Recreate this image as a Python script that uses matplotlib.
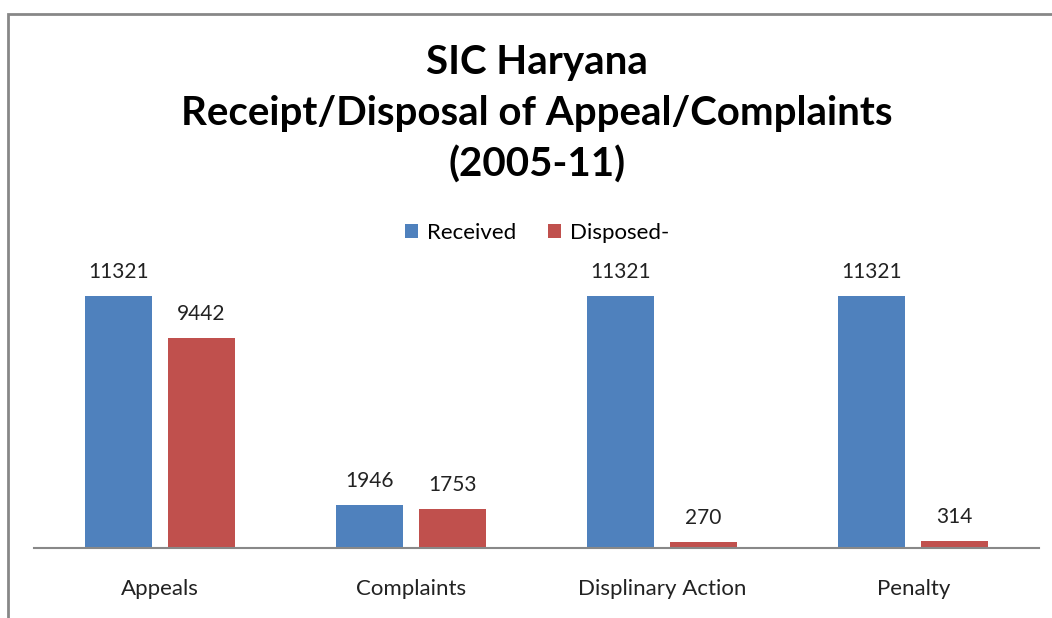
import matplotlib.pyplot as plt
import numpy as np
from matplotlib.patches import Rectangle

categories = ['Appeals', 'Complaints', 'Displinary Action', 'Penalty']
received = [11321, 1946, 11321, 11321]
disposed = [9442, 1753, 270, 314]
series_names = ['Received', 'Disposed-']
colors = ['#4F81BD', '#C0504D']

plt.rcParams['font.family'] = ['Lato', 'DejaVu Sans']

W, H = 1052, 618
fig = plt.figure(figsize=(W / 100, H / 100), dpi=100)

# outer chart frame (cut off at right and bottom like the original)
fig.patches.append(Rectangle((8 / W, -0.2), 1.2, 1.2 - 14 / H, transform=fig.transFigure,
                             fill=False, edgecolor='#878787', linewidth=2, clip_on=False))

ax = fig.add_axes([34 / W, 70 / H, 1005 / W, 267 / H])
x = np.arange(len(categories))
w = 0.267
off = 0.165
b1 = ax.bar(x - off, received, w, color=colors[0], label=series_names[0])
b2 = ax.bar(x + off, disposed, w, color=colors[1], label=series_names[1])
for bars in (b1, b2):
    ax.bar_label(bars, padding=10, fontsize=15, color='#222222')

ax.set_xlim(-0.5, len(categories) - 0.5)
ax.set_ylim(0, 12000)
ax.set_yticks([])
ax.set_xticks(x)
ax.set_xticklabels(categories, fontsize=16, color='#222222')
ax.tick_params(axis='x', length=0, pad=22)
for s in ['top', 'right', 'left']:
    ax.spines[s].set_visible(False)
ax.spines['bottom'].set_color('#888888')
ax.spines['bottom'].set_linewidth(1.5)

fig.text(537 / W, 1 - 114 / H, 'SIC Haryana\nReceipt/Disposal of Appeal/Complaints\n(2005-11)',
         ha='center', va='center', fontsize=29, fontweight='bold', linespacing=1.45)

fig.legend(loc='center', bbox_to_anchor=(537 / W, 1 - 233 / H), ncol=2, frameon=False,
           fontsize=16, handlelength=0.6, handleheight=0.6, handletextpad=0.4,
           columnspacing=1.4)

fig.savefig('out.png', dpi=100)
